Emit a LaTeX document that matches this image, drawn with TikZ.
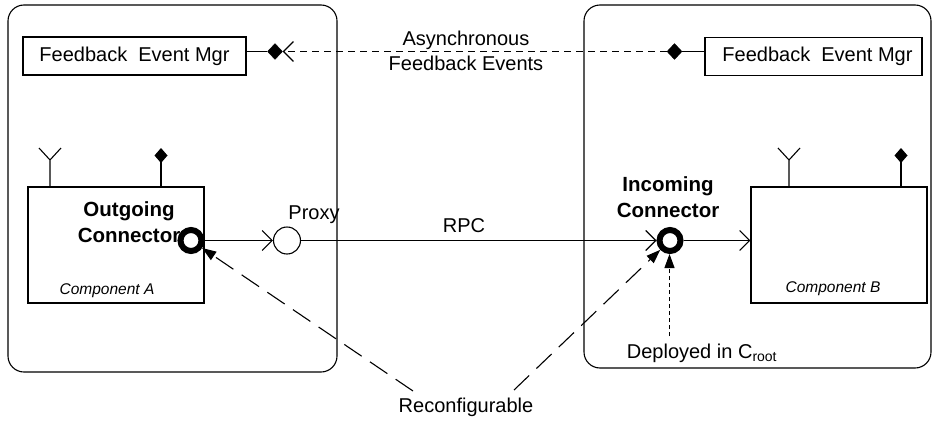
\documentclass[tikz,border=0pt]{standalone}
\usepackage{fontspec}
\setmainfont{Liberation Sans}
\usetikzlibrary{arrows.meta,shapes.geometric}
\tikzset{
  base/.style={line width=1.1pt},
  container/.style={base, rounded corners=16pt},
  fembox/.style={base, draw, rectangle, inner sep=0pt, minimum height=38pt,
                 font=\fontsize{20}{24}\selectfont},
  compbox/.style={base, draw, rectangle, inner sep=0pt},
  ring/.style={draw, circle, line width=6pt, minimum size=21pt, inner sep=0pt},
  proxyring/.style={base, draw, circle, minimum size=27pt, inner sep=0pt, fill=white},
  port/.style={draw, fill=black, diamond, inner sep=0pt, minimum width=15pt, minimum height=16pt},
  lbl/.style={font=\fontsize{20}{25}\selectfont, align=center, inner sep=0pt},
  blbl/.style={font=\fontsize{20.5}{25.5}\selectfont\bfseries, align=center, inner sep=0pt},
  ilbl/.style={font=\fontsize{15.5}{18}\selectfont\itshape, inner sep=0pt},
  barb/.style={-{Straight Barb[length=10pt,width=20pt]}},
  longdash/.style={base, dash pattern=on 21pt off 10pt},
  shortdash/.style={base, dash pattern=on 4pt off 3pt},
  fbdash/.style={base, dash pattern=on 7pt off 5pt},
  tri/.style={-{Triangle[length=14pt,width=10pt]}},
  recept/.pic={\draw[base] (0,0) -- (0,-27) (-11,-39) -- (0,-27) -- (11,-39);},
  emit/.pic={\draw[base] (0,0) -- (0,-25);
             \fill (0,-24) -- (6.5,-31.5) -- (0,-39) -- (-6.5,-31.5) -- cycle;}
}
\begin{document}
\begin{tikzpicture}[x=1pt,y=-1pt]
\useasboundingbox (0,0) rectangle (934,423);

% two deployment containers
\draw[container] (8,5) rectangle (337,372);
\draw[container] (584,5) rectangle (931,368);

% feedback event managers
\node[fembox, minimum width=223pt] (femA) at (134.5,56) {Feedback\ \ Event Mgr};
\node[fembox, minimum width=217pt] (femB) at (813.5,56.5) {\hspace*{8pt}Feedback\ \ Event Mgr};
\node[port] (pA) at (275,51.5) {};
\node[port] (pB) at (674.5,51.5) {};
\draw[base] (femA.east |- pA) -- (pA.west);
\draw[base] (pB.east) -- (femB.west |- pB);
\draw[fbdash, barb] (pB.west) -- (pA.east);
\node[lbl] (async) at (466,51) {Asynchronous\\Feedback Events};

% components
\node[compbox, minimum width=176pt, minimum height=116pt] (compA) at (116,245) {};
\node[compbox, minimum width=176pt, minimum height=116pt] (compB) at (839,245) {};
\node[ilbl] (labA) at (107,291) {Component A};
\node[ilbl] (labB) at (833,289) {Component B};
\pic at (50,187) {recept};
\pic at (161,187) {emit};
\pic at (789,187) {recept};
\pic at (901,187) {emit};

% connectors
\node[blbl] (outg) at (129,222) {Outgoing\\Connector};
\node[ring, fill=white] (cA) at (191,240.5) {};
\node[blbl] (inc) at (668,197) {Incoming\\Connector};
\node[ring] (cB) at (670,240.5) {};
\node[proxyring] (proxy) at (287,240.5) {};
\node[lbl] (proxytxt) at (314,215) {Proxy};
\node[lbl] (rpc) at (464,226) {RPC};
\coordinate (inB) at (compB.west |- cB);

\draw[base, barb] (cA.east) -- (proxy.west);
\draw[base, barb] (proxy.east) -- (cB.west);
\draw[base, barb] (cB.east) -- (inB);

% deployment note
\node[lbl] (dep) at (702,353) {Deployed in C\textsubscript{root}};
\coordinate (depTop) at (669.5,336);
\draw[shortdash, tri] (depTop) -- (cB.south -| depTop);

% reconfiguration note
\node[lbl] (reconf) at (466,407) {Reconfigurable};
\coordinate (rL) at (413,391);
\coordinate (rR) at (514,390);
\draw[longdash, tri] (rL) -- (cA);
\draw[longdash, tri] (rR) -- (cB);
\end{tikzpicture}
\end{document}
